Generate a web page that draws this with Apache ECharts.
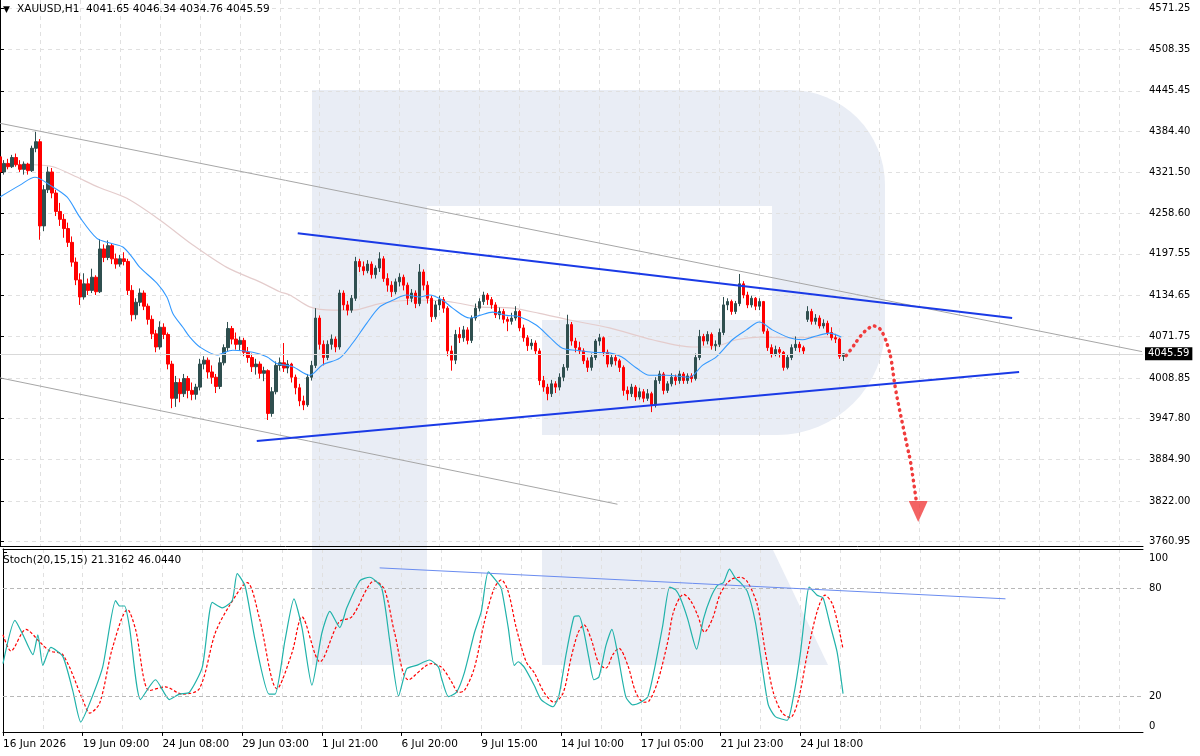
<!DOCTYPE html>
<html>
<head>
<meta charset="utf-8">
<script src="https://cdn.jsdelivr.net/npm/echarts@6/dist/echarts.min.js"></script>
<style>
html,body{margin:0;padding:0;background:#fff}
#main{width:1200px;height:756px}
</style>
</head>
<body>
<div id="main"></div>
<script>
// XAUUSD H1 candles, one per slot on the time axis
const opens = [4345,4322,4335,4330,4344,4333,4326,4334,4324,4358,
4368,4240,4295,4322,4290,4262,4250,4236,4215,4185,
4158,4132,4152,4142,4162,4140,4205,4192,4210,4190,
4182,4190,4186,4142,4105,4124,4138,4118,4098,4076,
4056,4086,4075,4030,3978,4002,3985,4008,3990,3984,
3995,4030,4036,4018,4010,3996,4032,4055,4084,4068,
4060,4066,4048,4040,4026,4030,4016,4020,3955,3988,
4028,4032,4024,4030,4010,3994,3974,3968,4010,4028,
4100,4060,4040,4060,4068,4056,4138,4120,4112,4130,
4186,4178,4172,4182,4166,4176,4190,4160,4150,4140,
4155,4162,4150,4130,4138,4122,4170,4150,4130,4102,
4120,4128,4115,4050,4036,4075,4070,4082,4066,4100,
4115,4125,4135,4128,4120,4105,4110,4098,4095,4100,
4110,4085,4070,4058,4062,4050,4005,3995,3985,4000,
3995,4010,4025,4090,4065,4055,4050,4035,4025,4040,
4065,4070,4048,4030,4040,4035,4025,3990,3985,3995,
3980,3988,3978,3985,3968,4005,4015,3990,4000,4010,
4005,4015,4005,4012,4008,4040,4072,4065,4075,4058,
4060,4078,4120,4125,4110,4122,4152,4135,4120,4130,
4118,4125,4080,4055,4045,4052,4048,4025,4040,4055,
4060,4055,4098,4110,4095,4100,4088,4092,4078,4070,
4068,4041.65];
const highs = [4352,4340,4342,4348,4350,4340,4338,4336,4362,4383,
4372,4302,4330,4328,4295,4275,4258,4245,4224,4192,
4168,4168,4160,4175,4165,4220,4212,4218,4214,4198,
4196,4200,4190,4150,4130,4145,4142,4122,4104,4082,
4095,4092,4078,4035,4012,4008,4015,4012,4002,4000,
4038,4042,4040,4028,4015,4040,4060,4094,4088,4078,
4072,4070,4056,4046,4038,4034,4026,4022,3995,4034,
4040,4062,4036,4032,4014,4000,3982,4015,4035,4115,
4104,4066,4066,4075,4072,4143,4142,4126,4135,4193,
4190,4186,4188,4186,4180,4200,4194,4168,4156,4160,
4168,4166,4154,4144,4142,4182,4174,4156,4134,4126,
4134,4132,4118,4058,4082,4086,4088,4086,4104,4122,
4130,4140,4138,4132,4124,4116,4114,4102,4108,4118,
4112,4090,4074,4068,4066,4054,4012,4000,4006,4004,
4016,4030,4105,4094,4070,4064,4054,4040,4046,4068,
4076,4072,4052,4046,4044,4038,4028,3996,4000,3998,
3994,3992,3992,3988,4010,4020,4018,4004,4016,4014,
4020,4018,4016,4016,4046,4082,4076,4080,4078,4066,
4084,4132,4130,4128,4126,4167,4156,4140,4134,4132,
4130,4126,4084,4060,4058,4056,4050,4044,4060,4072,
4064,4058,4118,4114,4106,4104,4098,4096,4086,4076,
4070,4046.34];
const lows = [4315,4318,4326,4328,4330,4322,4318,4318,4322,4352,
4219,4232,4290,4282,4255,4240,4222,4208,4178,4150,
4120,4128,4135,4138,4135,4138,4185,4188,4182,4175,
4178,4180,4135,4095,4098,4118,4112,4090,4068,4048,
4052,4068,4022,3963,3965,3972,3980,3978,3975,3976,
3990,4022,4008,4000,3986,3992,4028,4050,4060,4052,
4050,4042,4032,4018,4014,4008,4004,3945,3950,3984,
4020,4018,4016,4002,3984,3966,3960,3965,4005,4024,
4052,4028,4036,4052,4048,4052,4112,4104,4108,4126,
4170,4165,4168,4160,4160,4170,4155,4140,4132,4136,
4148,4142,4120,4124,4115,4118,4142,4122,4094,4098,
4112,4108,4042,4020,4030,4062,4064,4060,4062,4096,
4110,4120,4120,4114,4100,4098,4092,4080,4090,4096,
4080,4064,4050,4052,4044,3998,3988,3975,3980,3986,
3990,4004,4020,4058,4048,4044,4030,4018,4020,4036,
4058,4042,4025,4026,4028,4018,3982,3975,3980,3974,
3976,3972,3974,3957,3964,4000,3984,3986,3996,3998,
4000,4000,4000,4002,4005,4036,4058,4060,4052,4050,
4056,4074,4112,4105,4106,4118,4130,4115,4116,4112,
4112,4076,4050,4040,4042,4040,4020,4022,4036,4050,
4048,4044,4094,4090,4090,4084,4084,4074,4066,4062,
4038,4034.76];
const closes = [4322,4335,4330,4344,4333,4326,4334,4324,4358,4368,
4240,4295,4322,4290,4262,4250,4236,4215,4185,4158,
4132,4152,4142,4162,4140,4205,4192,4210,4190,4182,
4190,4186,4142,4105,4124,4138,4118,4098,4076,4056,
4086,4075,4030,3978,4002,3985,4008,3990,3984,3995,
4030,4036,4018,4010,3996,4032,4055,4084,4068,4060,
4066,4048,4040,4026,4030,4016,4020,3955,3988,4028,
4032,4024,4030,4010,3994,3974,3968,4010,4028,4100,
4060,4040,4060,4068,4056,4138,4120,4112,4130,4186,
4178,4172,4182,4166,4176,4190,4160,4150,4140,4155,
4162,4150,4130,4138,4122,4170,4150,4130,4102,4120,
4128,4115,4050,4036,4075,4070,4082,4066,4100,4115,
4125,4135,4128,4120,4105,4110,4098,4095,4100,4110,
4085,4070,4058,4062,4050,4005,3995,3985,4000,3995,
4010,4025,4090,4065,4055,4050,4035,4025,4040,4065,
4070,4048,4030,4040,4035,4025,3990,3985,3995,3980,
3988,3978,3985,3968,4005,4015,3990,4000,4010,4005,
4015,4005,4012,4008,4040,4072,4065,4075,4058,4060,
4078,4120,4125,4110,4122,4152,4135,4120,4130,4118,
4125,4080,4055,4045,4052,4048,4025,4040,4055,4060,
4055,4050,4110,4095,4100,4088,4092,4078,4070,4068,
4042,4045.59];

// moving averages, [slot, price]
const fastMA = [[0,4284],[5,4302],[8.75,4314],[12.5,4302],[16.75,4284],[20,4253],[24.25,4221],[27.5,4214],[30.75,4208],[33.25,4191],[35,4177],[39.25,4153],[41.75,4132],[43.25,4107],[45.75,4086],[47.5,4071],[50,4056],[54.25,4044],[58.25,4051],[63.25,4048],[66.75,4041],[69.25,4031],[73.25,4026],[77.5,4013],[80.75,4029],[85,4039],[88.25,4062],[91.75,4092],[95,4117],[98.25,4127],[101.75,4135],[105,4132],[107.5,4135],[110.75,4127],[113.25,4115],[117.5,4100],[120,4104],[123.25,4109],[126.75,4104],[130,4102],[134.25,4089],[137.5,4071],[140.75,4054],[144.25,4051],[148.25,4048],[152.5,4047],[155.5,4041],[159.25,4024],[162.5,4013],[166.75,4013],[172.5,4010],[175.75,4028],[179.25,4041],[183.25,4067],[186.75,4082],[190,4094],[193.25,4082],[197.5,4070],[200.75,4067],[203.25,4071],[207.5,4077],[210.5,4071]];
const slowMA = [[8.25,4333],[13.25,4330],[18.25,4317],[25,4298],[31.75,4282],[40,4249],[48.25,4211],[56.75,4177],[65,4155],[70,4140],[72.5,4135],[77.5,4117],[83.25,4112],[88.25,4112],[95,4122],[103.25,4127],[108.25,4127],[113.25,4124],[120,4117],[128.25,4115],[135,4107],[142.5,4097],[152.5,4085],[163.25,4067],[173.25,4056],[178.25,4056],[184.25,4067],[190,4071],[198.25,4070],[206.75,4071],[210.5,4070]];

// drawn lines
const channelTop = [[0,4396],[285.75,4049]];
const channelBottom = [[0,4009],[154.5,3817]];
const triangleTop = [[74.5,4229],[253.25,4100]];
const triangleBottom = [[64.25,3913],[255,4018]];
const forecast = [[211.75,4043],[213.25,4055],[214.75,4068],[216.25,4079],[217.5,4085],[218.25,4088],[219.25,4087],[220.25,4083],[221.25,4072],[222.25,4055],[223,4036],[224,3995],[225,3963],[226,3934],[227,3905],[227.75,3884],[228.5,3855],[229.25,3823]];
const arrowHead = [[229.75,3806]];
const lastPrice = 4045.59;

// stochastic (20,15,15)
const stochK = [[0,38],[3,62],[5,54],[7.5,43],[8.75,54],[10,37],[12,47],[15,42],[17.5,23],[19.5,5.5],[21.75,16],[25,36],[28.25,73],[29.25,70],[30.5,70],[31.75,58],[34.5,18],[38.25,29],[41.75,18],[44.25,21],[46.75,22],[50,36],[52.5,72],[55,69],[57.5,73],[58.75,88],[60.75,81],[63.25,51],[66.75,21],[68.25,21],[70.75,51],[73,74],[75,58],[77.5,26],[80,55],[82,67],[84.5,58],[86.25,69],[89.5,84],[92,86],[95,80],[97,51],[99.25,20],[101.25,35],[103.75,37],[107,40],[109.25,36],[110,30],[111.75,19.6],[113.75,22],[115.75,33],[118.25,55],[120,67],[121.75,89],[123.75,84],[125,80],[126.75,58],[128.25,37],[129.25,39],[130.75,36],[133.25,26],[135,18],[138,14],[139.5,20.5],[141.25,43],[143.25,64],[144.5,64.5],[145.75,55.5],[147,41],[148.25,29],[149.5,30.5],[151.25,48],[152.75,57],[154.25,43],[156.25,19.5],[158,15],[160,16.5],[161.75,19.5],[163.25,33],[165.5,59],[167.25,80.5],[168.75,79],[170,74],[171.75,63],[174,46],[175.75,63],[177.5,74.5],[179.25,81.5],[180.75,83],[182.25,90.5],[183.75,85.5],[185,83],[186.75,78],[188.75,61],[190.5,35.5],[192,15],[193.75,8.5],[196.75,6.5],[198.25,19],[200,43],[201.25,67],[202.25,80.5],[204.25,76],[205.75,74.5],[207.5,59.5],[209.25,44.5],[210.75,21.3]];
const stochD = [[0,54],[2,45],[5.75,57],[9.25,50],[11.75,45],[15,43],[20,18],[21.75,10.5],[24.25,16],[27.5,47],[31.25,68],[33.25,57],[36.75,23],[40.75,25],[45,21],[49.25,24],[53.25,55],[56.75,70],[61.25,83],[64.25,64],[68.75,24],[72.5,44],[75,64],[79.5,39],[84.25,61],[87.5,64],[93.25,84],[95.75,79],[98.25,55],[101.75,29],[107.5,38],[110,36],[112.5,28],[114.25,22],[115.75,23],[118.25,35.5],[120.75,61],[123.25,80],[125,84.5],[126.75,78],[128.75,58],[131.25,39],[133.25,33],[135.75,22],[138.25,16.5],[140.5,21.5],[142.5,41],[144.25,55],[145.75,59.5],[147.5,52],[149.5,38],[151.25,35.5],[153,43],[154.5,46.5],[156.75,37],[158.75,22],[160.75,16.5],[162,17],[164.25,28],[166.75,50],[168.25,67],[170.75,76.5],[172.5,73],[174.25,65],[176,55.5],[178,63],[180,77],[182.5,84.5],[185,86],[186.75,83.5],[189.25,70.5],[191.25,44.5],[193.25,22],[195.5,10.5],[197.5,8],[199.5,17.5],[201.75,43],[204.25,67],[206.25,76],[208,71.5],[209.5,59.5],[210.75,46]];
const stochTrend = [[94.5,91.2],[251.5,74]];
const stochLevels = [20, 80];

// axis labels
const timeLabels = ['16 Jun 2026','19 Jun 09:00','24 Jun 08:00','29 Jun 03:00','1 Jul 21:00','6 Jul 20:00','9 Jul 15:00','14 Jul 10:00','17 Jul 05:00','21 Jul 23:00','24 Jul 18:00'];
const priceTicks = [4571.25,4508.35,4445.45,4384.40,4321.50,4258.60,4197.55,4134.65,4071.75,4008.85,3947.80,3884.90,3822.00,3760.95];
const stochTicks = [0, 20, 80, 100];

const SLOTS = 287;
const LABEL_STEP = 20;
const font = 'DejaVu Sans';
const cats = [];
for (let i = 0; i < SLOTS; i++) cats.push(String(i));
const ohlc = opens.map((o, i) => [o, closes[i], lows[i], highs[i]]);
const hasLabel = i => i % LABEL_STEP === 0 && i / LABEL_STEP < timeLabels.length;

const vgrid = {show: true, interval: 9, lineStyle: {color: '#e0e0e0', type: [4, 4], width: 1}};
const lbl = {fontSize: 10, color: '#000', fontFamily: font};
const wm = '#e9edf5';

const myChart = echarts.init(document.getElementById('main'));
const option = {
    animation: false,
    backgroundColor: '#ffffff',
    textStyle: {fontFamily: font},
    title: [
        {text: '\u25BC', left: 3, top: 5, padding: 0,
         textStyle: {fontSize: 9, fontWeight: 'normal', color: '#000', fontFamily: font}},
        {text: 'XAUUSD,H1  4041.65 4046.34 4034.76 4045.59', left: 17, top: 4, padding: 0,
         textStyle: {fontSize: 10.5, fontWeight: 'normal', color: '#000', fontFamily: font}},
        {text: 'Stoch(20,15,15) 21.3162 46.0440', left: 3, top: 555, padding: 0,
         textStyle: {fontSize: 10.5, fontWeight: 'normal', color: '#000', fontFamily: font}}
    ],
    // faint logo in the background
    graphic: [
        {type: 'rect', z: -10, silent: true, shape: {x: 312, y: 90, width: 573, height: 345, r: [0, 95, 108, 0]}, style: {fill: wm}},
        {type: 'rect', z: -9, silent: true, shape: {x: 427, y: 206, width: 345, height: 114}, style: {fill: '#fff'}},
        {type: 'rect', z: -9, silent: true, shape: {x: 427, y: 320, width: 115, height: 115}, style: {fill: '#fff'}},
        {type: 'rect', z: -8, silent: true, shape: {x: 312, y: 90, width: 115, height: 575}, style: {fill: wm}},
        {type: 'polygon', z: -8, silent: true, shape: {points: [[542,550],[773,550],[828,665],[542,665]]}, style: {fill: wm}}
    ],
    grid: [
        {left: 0, right: 57, top: 0, height: 546},
        {left: 0, right: 57, top: 549, height: 184}
    ],
    xAxis: [
        {type: 'category', gridIndex: 0, data: cats, boundaryGap: false,
         axisLine: {lineStyle: {color: '#000'}}, axisTick: {show: false}, axisLabel: {show: false},
         splitLine: vgrid},
        {type: 'value', gridIndex: 0, min: 0, max: SLOTS - 1, show: false},
        {type: 'category', gridIndex: 1, data: cats, boundaryGap: false,
         axisLine: {lineStyle: {color: '#000'}},
         axisTick: {interval: hasLabel, length: 4, lineStyle: {color: '#000'}},
         axisLabel: Object.assign({}, lbl, {interval: hasLabel, align: 'left', margin: 6, fontSize: 10.5,
            formatter: (v, i) => timeLabels[i / LABEL_STEP] || ''}),
         splitLine: vgrid},
        {type: 'value', gridIndex: 1, min: 0, max: SLOTS - 1, position: 'top',
         axisLine: {show: true, lineStyle: {color: '#000'}}, axisTick: {show: false},
         axisLabel: {show: false}, splitLine: {show: false}}
    ],
    yAxis: [
        {type: 'value', gridIndex: 0, position: 'right', min: 3753.5, max: 4583.4,
         axisLine: {show: true, lineStyle: {color: '#000'}},
         axisTick: {show: true, length: 4, customValues: priceTicks, lineStyle: {color: '#000'}},
         axisLabel: Object.assign({customValues: priceTicks, margin: 6, formatter: v => v.toFixed(2)}, lbl),
         splitLine: {show: true, lineStyle: {color: '#e0e0e0', type: [4, 4]}}},
        {type: 'value', gridIndex: 1, position: 'right', min: -0.6, max: 101.7,
         axisLine: {show: true, lineStyle: {color: '#000'}},
         axisTick: {show: true, length: 4, customValues: stochTicks, lineStyle: {color: '#000'}},
         axisLabel: Object.assign({customValues: stochTicks, margin: 6,
            formatter: v => v === 100 ? '{t|100}' : (v === 0 ? '{b|0}' : String(v)),
            rich: {t: Object.assign({padding: [13, 0, 0, 0]}, lbl), b: Object.assign({padding: [0, 0, 11, 0]}, lbl)}}, lbl),
         splitLine: {show: false}}
    ],
    series: [
        {type: 'candlestick', name: 'XAUUSD', xAxisIndex: 0, yAxisIndex: 0, data: ohlc, barWidth: 3,
         itemStyle: {color: '#2f4f4f', color0: '#ff0000', borderColor: '#2f4f4f', borderColor0: '#ff0000', borderWidth: 1},
         markLine: {silent: true, symbol: 'none', animation: false,
            lineStyle: {color: '#d9d9d9', type: 'solid', width: 1},
            label: {show: true, position: 'end', distance: 2, formatter: lastPrice.toFixed(2),
                    backgroundColor: '#000', color: '#fff', padding: [2, 3, 1, 3], fontSize: 10, fontFamily: font},
            data: [{yAxis: lastPrice}]}},
        {type: 'line', name: 'MA slow', xAxisIndex: 1, yAxisIndex: 0, data: slowMA, showSymbol: false, smooth: 0.3,
         lineStyle: {color: '#e4cccc', width: 1.2}, z: 1},
        {type: 'line', name: 'MA fast', xAxisIndex: 1, yAxisIndex: 0, data: fastMA, showSymbol: false, smooth: 0.3,
         lineStyle: {color: '#3399ff', width: 1.1}, z: 3},
        {type: 'line', xAxisIndex: 1, yAxisIndex: 0, data: channelTop, showSymbol: false,
         lineStyle: {color: '#a6a6a6', width: 1}, z: 4},
        {type: 'line', xAxisIndex: 1, yAxisIndex: 0, data: channelBottom, showSymbol: false,
         lineStyle: {color: '#a6a6a6', width: 1}, z: 4},
        {type: 'line', xAxisIndex: 1, yAxisIndex: 0, data: triangleTop, showSymbol: false,
         lineStyle: {color: '#1a3ae6', width: 2}, z: 5},
        {type: 'line', xAxisIndex: 1, yAxisIndex: 0, data: triangleBottom, showSymbol: false,
         lineStyle: {color: '#1a3ae6', width: 2}, z: 5},
        {type: 'line', xAxisIndex: 1, yAxisIndex: 0, data: forecast, showSymbol: false, smooth: 0.4,
         lineStyle: {color: '#f03c3c', width: 3.5, type: [0.5, 5.5], cap: 'round'}, z: 6},
        {type: 'scatter', xAxisIndex: 1, yAxisIndex: 0, data: arrowHead, symbol: 'triangle',
         symbolSize: [19, 21], symbolRotate: 180, itemStyle: {color: '#f03c3c'}, z: 6},
        {type: 'line', name: 'Signal', xAxisIndex: 3, yAxisIndex: 1, data: stochD, showSymbol: false, smooth: 0.3,
         lineStyle: {color: '#ff0000', width: 1.2, type: [3, 2]}, z: 3},
        {type: 'line', name: 'Main', xAxisIndex: 3, yAxisIndex: 1, data: stochK, showSymbol: false, smooth: 0.2,
         lineStyle: {color: '#20b2aa', width: 1.2}, z: 4,
         markLine: {silent: true, symbol: 'none', animation: false, label: {show: false},
            lineStyle: {color: '#b8b8b8', type: [4, 3], width: 1},
            data: stochLevels.map(v => ({yAxis: v}))}},
        {type: 'line', xAxisIndex: 3, yAxisIndex: 1, data: stochTrend, showSymbol: false,
         lineStyle: {color: '#6a8cf0', width: 1}, z: 5}
    ]
};
myChart.setOption(option);
</script>
</body>
</html>
